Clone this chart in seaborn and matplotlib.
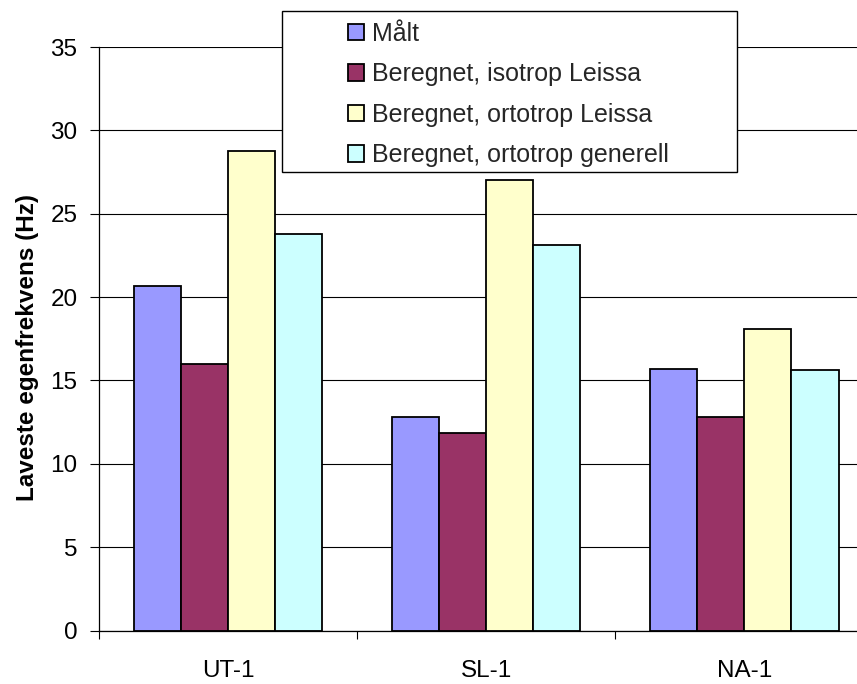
import matplotlib
matplotlib.use("Agg")
import matplotlib.pyplot as plt
from matplotlib.patches import Rectangle
from matplotlib.ticker import FixedLocator
import seaborn as sns
import pandas as pd

# Measured and computed lowest natural frequencies per test plate
plates = ["UT-1", "SL-1", "NA-1"]
series = [
    "Målt",
    "Beregnet, isotrop Leissa",
    "Beregnet, ortotrop Leissa",
    "Beregnet, ortotrop generell",
]
maalt = [20.65, 12.8, 15.7]
isotrop_leissa = [16.0, 11.85, 12.8]
ortotrop_leissa = [28.75, 27.05, 18.1]
ortotrop_generell = [23.8, 23.1, 15.6]
colors = ["#9999FF", "#993366", "#FFFFCC", "#CCFFFF"]

values = [maalt, isotrop_leissa, ortotrop_leissa, ortotrop_generell]
df = pd.DataFrame(
    [(p, s, v[i]) for s, v in zip(series, values) for i, p in enumerate(plates)],
    columns=["Prøve", "Serie", "Frekvens"],
)

sns.set_style("white")
plt.rcParams["font.family"] = ["Liberation Sans", "DejaVu Sans"]

fig = plt.figure(figsize=(8.57, 6.84), dpi=100)
ax = fig.add_axes([0.1155, 0.0782, 0.9037, 0.853])

sns.barplot(
    data=df, x="Prøve", y="Frekvens", hue="Serie", hue_order=series,
    palette=colors, width=0.73, saturation=1, edgecolor="black",
    linewidth=1.3, ax=ax, legend=True,
)

ax.set_xlim(-0.5, 2.5)
ax.set_ylim(0, 35)
ax.set_yticks(range(0, 36, 5))
ax.yaxis.grid(True, color="black", linewidth=0.8)
ax.set_axisbelow(True)

for side in ("top", "right"):
    ax.spines[side].set_visible(False)
for side in ("left", "bottom"):
    ax.spines[side].set_color("black")
    ax.spines[side].set_linewidth(0.9)

ax.tick_params(axis="y", direction="out", length=6.5, width=0.8,
               color="black", labelsize=17.5, labelcolor="black", pad=9, left=True)
ax.tick_params(axis="x", which="major", length=0, labelsize=17.5,
               labelcolor="black", pad=21)
ax.xaxis.set_minor_locator(FixedLocator([-0.5, 0.5, 1.5, 2.5]))
ax.tick_params(axis="x", which="minor", direction="out", length=6,
               width=0.8, color="black", bottom=True)

ax.set_xlabel("")
ax.set_ylabel("Laveste egenfrekvens (Hz)", fontsize=17.5, fontweight="bold",
              color="black")
ax.yaxis.set_label_coords(-0.078, 0.485)

# Legend with a white framed box
handles, labels = ax.get_legend_handles_labels()
ax.get_legend().remove()
fig.patches.append(Rectangle((0.329, 0.7485), 0.531, 0.2354,
                             transform=fig.transFigure, facecolor="white",
                             edgecolor="black", linewidth=1.0, zorder=5))
leg = fig.legend(handles, labels, loc="upper left",
                 bbox_to_anchor=(0.406, 0.968), frameon=False, fontsize=18,
                 handlelength=0.64, handleheight=0.64, handletextpad=0.32,
                 labelspacing=0.66, borderpad=0, borderaxespad=0)
leg.set_zorder(6)

fig.savefig("out.png", dpi=100)
